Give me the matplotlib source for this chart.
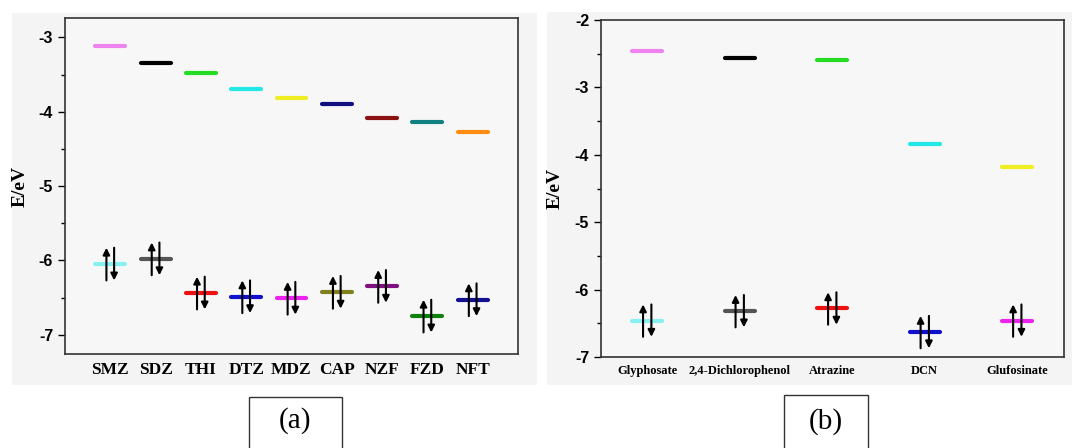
import numpy as np
import matplotlib.pyplot as plt
from matplotlib.patches import Rectangle

plt.rcParams['axes.unicode_minus'] = False

# Panel (a) data
drugs = ['SMZ', 'SDZ', 'THI', 'DTZ', 'MDZ', 'CAP', 'NZF', 'FZD', 'NFT']
lumo_a = [-3.12, -3.35, -3.48, -3.69, -3.82, -3.90, -4.09, -4.14, -4.27]
homo_a = [-6.05, -5.98, -6.44, -6.49, -6.51, -6.43, -6.35, -6.75, -6.53]
lumo_a_colors = ['#ee82ee', '#000000', '#22dd22', '#22e8e8', '#eeee22',
                 '#101080', '#8b1010', '#108080', '#ff8c10']
homo_a_colors = ['#88f0f0', '#555555', '#ee1111', '#1010cc', '#ee22ee',
                 '#808020', '#801080', '#108010', '#101090']

# Panel (b) data
pesticides = ['Glyphosate', '2,4-Dichlorophenol', 'Atrazine', 'DCN', 'Glufosinate']
lumo_b = [-2.46, -2.57, -2.60, -3.84, -4.18]
homo_b = [-6.46, -6.32, -6.28, -6.63, -6.46]
lumo_b_colors = ['#ee82ee', '#000000', '#22dd22', '#22e8e8', '#eeee22']
homo_b_colors = ['#88f0f0', '#555555', '#ee1111', '#1010cc', '#ee22ee']

fig = plt.figure(figsize=(10.72, 4.48), dpi=100)

# light gray panel backgrounds
fig.patches.append(Rectangle((0.011, 0.14), 0.49, 0.83, transform=fig.transFigure,
                             facecolor='#f4f4f4', edgecolor='none', zorder=-10))
fig.patches.append(Rectangle((0.51, 0.14), 0.49, 0.833, transform=fig.transFigure,
                             facecolor='#f4f4f4', edgecolor='none', zorder=-10))

ax1 = fig.add_axes([0.0606, 0.2098, 0.4226, 0.75])
ax2 = fig.add_axes([0.5606, 0.2031, 0.4315, 0.7522])


def draw_levels(ax, names, lumo, homo, lc, hc, half, dx, span, xlabel_size):
    x = np.arange(1, len(names) + 1)
    for i in range(len(names)):
        ax.plot([x[i] - half, x[i] + half], [lumo[i], lumo[i]], color=lc[i],
                lw=3, solid_capstyle='round')
        ax.plot([x[i] - half, x[i] + half], [homo[i], homo[i]], color=hc[i],
                lw=3, solid_capstyle='round')
        # up / down electron arrows
        ax.annotate('', xy=(x[i] - dx, homo[i] + span), xytext=(x[i] - dx, homo[i] - span),
                    arrowprops=dict(arrowstyle='-|>', color='k', lw=1.5, mutation_scale=10,
                                    shrinkA=0, shrinkB=0))
        ax.annotate('', xy=(x[i] + dx, homo[i] - span), xytext=(x[i] + dx, homo[i] + span),
                    arrowprops=dict(arrowstyle='-|>', color='k', lw=1.5, mutation_scale=10,
                                    shrinkA=0, shrinkB=0))
    ax.set_xticks(x)
    ax.set_xticklabels(names, family='Liberation Serif', fontweight='bold',
                       fontsize=xlabel_size)
    ax.tick_params(axis='x', length=0, pad=6)
    ax.tick_params(axis='y', direction='out', length=5, width=1)
    ax.tick_params(axis='y', which='minor', direction='out', length=3, width=1)
    ax.set_yticks(np.arange(-7, -1.9, 0.5), minor=True)
    ax.set_ylabel('E/eV', family='Liberation Serif', fontweight='bold', fontsize=14)
    ax.set_facecolor('#f7f7f7')
    for s in ax.spines.values():
        s.set_linewidth(1.2)
        s.set_color('#333333')


def style_yticks(ax, ticks):
    ax.set_yticks(ticks)
    ax.set_yticklabels([str(t) for t in ticks], family='Liberation Sans',
                       fontweight='bold', fontsize=11.5)


draw_levels(ax1, drugs, lumo_a, homo_a, lumo_a_colors, homo_a_colors,
            0.33, 0.085, 0.22, 12.5)
ax1.set_xlim(0, 10)
ax1.set_ylim(-7.26, -2.74)
style_yticks(ax1, [-7, -6, -5, -4, -3])
ax1.yaxis.set_label_coords(-0.08, 0.5)

draw_levels(ax2, pesticides, lumo_b, homo_b, lumo_b_colors, homo_b_colors,
            0.16, 0.045, 0.24, 9)
ax2.set_xlim(0.5, 5.5)
ax2.set_ylim(-7, -2)
style_yticks(ax2, [-7, -6, -5, -4, -3, -2])
ax2.yaxis.set_label_coords(-0.08, 0.5)

# panel letters in boxes (boxes run off the bottom edge as in the original)
fig.patches.append(Rectangle((249 / 1072, -0.05), 93 / 1072, 1 - 397 / 448 + 0.05,
                             transform=fig.transFigure, facecolor='white',
                             edgecolor='#333333', lw=1))
fig.patches.append(Rectangle((784 / 1072, -0.05), 84 / 1072, 1 - 395 / 448 + 0.05,
                             transform=fig.transFigure, facecolor='white',
                             edgecolor='#333333', lw=1))
fig.text(295 / 1072, 1 - 421 / 448, '(a)', family='Liberation Serif', fontsize=21,
         ha='center', va='center')
fig.text(826 / 1072, 1 - 422 / 448, '(b)', family='Liberation Serif', fontsize=21,
         ha='center', va='center')

fig.savefig('out.png', dpi=100)
